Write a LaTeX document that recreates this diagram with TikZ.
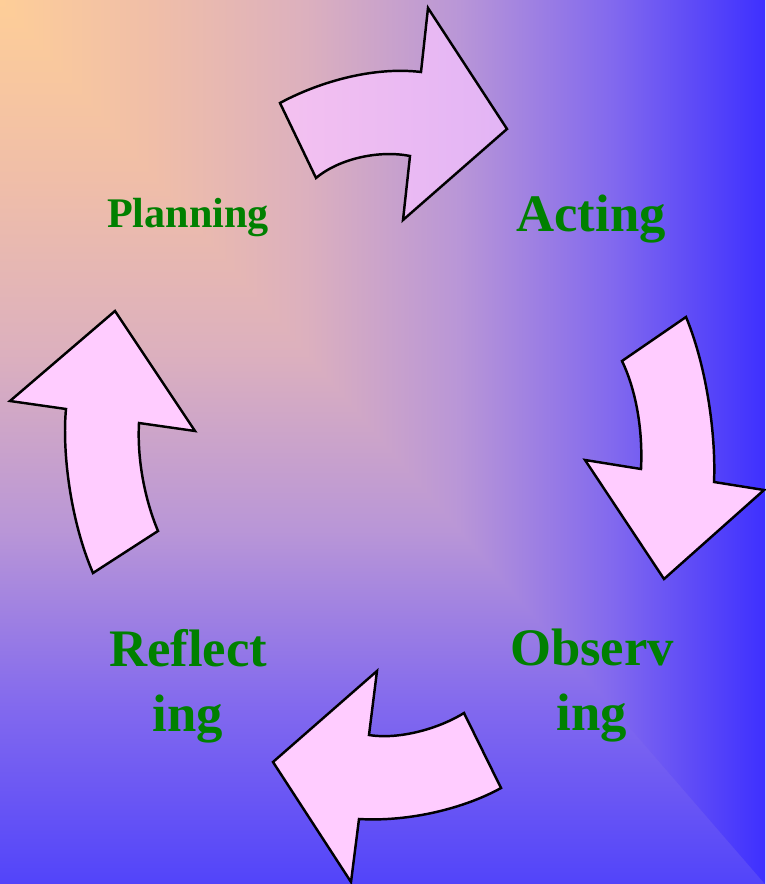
\documentclass[tikz,border=0pt]{standalone}
\usepackage{fontspec}
\setmainfont{Liberation Serif}
\usepackage{xcolor}

\definecolor{bgc0}{RGB}{254,206,152}
\definecolor{bgc1}{RGB}{240,190,168}
\definecolor{bgc2}{RGB}{220,176,190}
\definecolor{bgc3}{RGB}{185,150,215}
\definecolor{bgc4}{RGB}{130,105,238}
\definecolor{bgc5}{RGB}{62,48,255}
\definecolor{bgc5v}{RGB}{82,68,250}
\definecolor{arrowpink}{RGB}{255,204,255}
\definecolor{arrowpinkL}{RGB}{244,193,240}
\definecolor{arrowpinkR}{RGB}{226,180,245}
\definecolor{labelgreen}{RGB}{0,128,0}

\pgfdeclarehorizontalshading{bgramph}{100bp}{color(0bp)=(bgc0); color(25bp)=(bgc0); color(35bp)=(bgc1); color(45bp)=(bgc2); color(55bp)=(bgc3); color(65bp)=(bgc4); color(75bp)=(bgc5); color(100bp)=(bgc5)}
\pgfdeclareverticalshading{bgrampv}{100bp}{color(0bp)=(bgc5v); color(25bp)=(bgc5v); color(35bp)=(bgc4); color(45bp)=(bgc3); color(55bp)=(bgc2); color(65bp)=(bgc1); color(75bp)=(bgc0); color(100bp)=(bgc0)}

\begin{document}
\begin{tikzpicture}[x=0.02cm,y=-0.02cm]
%%%%%%%%%%%%%%%%%%%%%%%%%%%%%%%%%%%%%%%%%%%%%%%%%%%%%%%%%%%%%%
%BACKGROUND
\coordinate (cornerTL) at (0,0);
\coordinate (cornerTR) at (765,0);
\coordinate (cornerBR) at (765,884);
\coordinate (cornerBL) at (0,884);
\useasboundingbox (cornerTL) rectangle (cornerBR);
\shade[shading=bgrampv] (cornerTL) rectangle (cornerBR);
\begin{scope}
\clip (cornerTL) -- (cornerTR) -- (cornerBR) -- cycle;
\shade[shading=bgramph] (cornerTL) rectangle (cornerBR);
\end{scope}

%%%%%%%%%%%%%%%%%%%%%%%%%%%%%%%%%%%%%%%%%%%%%%%%%%%%%%%%%%%%%%
%stages
\tikzstyle{stage}=[text=labelgreen, font=\bfseries\fontsize{30}{37}\selectfont, align=center, inner sep=0pt]
\tikzstyle{stagesmall}=[text=labelgreen, font=\bfseries\fontsize{24}{29}\selectfont, inner sep=0pt]

\node[stagesmall, anchor=base] (planning) at (188,228) {Planning};
\node[stage, anchor=base] (acting) at (591,232) {Acting};
\node[stage, anchor=north] (observing) at (592,629) {Observ\\ing};
\node[stage, anchor=north] (reflecting) at (188,629) {Reflect\\ing};

%%%%%%%%%%%%%%%%%%%%%%%%%%%%%%%%%%%%%%%%%%%%%%%%%%%%%%%%%%%%%%
%ARROWS
\tikzstyle{cyclearrow}=[draw=black, line width=1.4pt, fill=arrowpink, line join=miter]

%planning->acting
\path[cyclearrow, left color=arrowpinkL, right color=arrowpinkR] (280,103)
  .. controls (315,84) and (370,66) .. (421,72)
  -- (428,8) -- (507,129) -- (403,220) -- (410,156)
  .. controls (380,150) and (340,158) .. (316,178) -- cycle;
%acting->observing
\path[cyclearrow] (686,317) -- (622,361)
  .. controls (636,390) and (643,430) .. (641,469)
  -- (585,460) -- (664,579) -- (764,490) -- (714,482)
  .. controls (716,440) and (708,370) .. (686,317) -- cycle;
%observing->reflecting
\path[cyclearrow] (464,713) -- (501,788)
  .. controls (465,808) and (410,822) .. (359,819)
  -- (351,882) -- (273,762) -- (377,671) -- (369,735)
  .. controls (400,740) and (440,728) .. (464,713) -- cycle;
%reflecting->planning
\path[cyclearrow] (93,573) -- (158,531)
  .. controls (145,500) and (137,460) .. (139,423)
  -- (195,431) -- (115,311) -- (10,401) -- (66,409)
  .. controls (62,450) and (70,520) .. (93,573) -- cycle;
\end{tikzpicture}
\end{document}
